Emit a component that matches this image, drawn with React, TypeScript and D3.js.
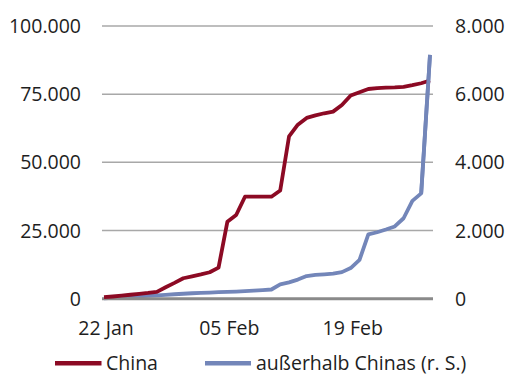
import React from "react";
import * as d3 from "d3";

const startDate = new Date(2020, 0, 22);
const endDate = new Date(2020, 1, 28);
const dates: Date[] = d3.timeDay.range(startDate, d3.timeDay.offset(endDate, 1));

const chinaValues = [
  570, 800, 1100, 1450, 1800, 2100, 2500, 4200, 5800, 7500, 8200, 8900, 9700,
  11400, 28200, 30700, 37400, 37400, 37400, 37400, 39700, 59500, 63800, 66300,
  67200, 68000, 68600, 71000, 74500, 75700, 76900, 77200, 77400, 77500, 77700,
  78300, 79000, 80000,
];

const outsideValues = [
  10, 25, 40, 55, 70, 85, 100, 115, 130, 145, 160, 170, 180, 190, 200, 210, 220,
  235, 250, 270, 420, 480, 560, 665, 700, 715, 735, 780, 900, 1140, 1890, 1950,
  2030, 2120, 2360, 2870, 3090, 7150,
];

const leftTicks = [0, 25000, 50000, 75000, 100000];
const rightTicks = [0, 2000, 4000, 6000, 8000];
const xTickDates = [new Date(2020, 0, 22), new Date(2020, 1, 5), new Date(2020, 1, 19)];

const seriesNames = ["China", "außerhalb Chinas (r. S.)"];
const colors = ["#8c0a24", "#7386b9"];

const de = d3.formatLocale({
  decimal: ",",
  thousands: ".",
  grouping: [3],
  currency: ["", " €"],
});
const fmt = de.format(",d");
const fmtDate = d3.timeFormat("%d %b");

const FONT = "'Open Sans', sans-serif";
const TEXT = "#1e1e1e";

export default function App() {
  const W = 508;
  const H = 374;
  const x = d3.scaleTime().domain([startDate, endDate]).range([104, 430]);
  const yL = d3.scaleLinear().domain([0, 100000]).range([298.7, 26]);
  const yR = d3.scaleLinear().domain([0, 8000]).range([298.7, 26]);

  const lineL = d3
    .line<number>()
    .x((_, i) => x(dates[i]))
    .y((d) => yL(d));
  const lineR = d3
    .line<number>()
    .x((_, i) => x(dates[i]))
    .y((d) => yR(d));

  const gx0 = 102;
  const gx1 = 433;

  return (
    <svg
      width={W}
      height={H}
      style={{ position: "absolute", left: 0, top: 0, background: "#fff" }}
      fontFamily={FONT}
    >
      {leftTicks.map((t) =>
        t === 0 ? null : (
          <line
            key={"g" + t}
            x1={gx0}
            x2={gx1}
            y1={yL(t)}
            y2={yL(t)}
            stroke="#a8a8a8"
            strokeWidth={1.5}
          />
        )
      )}
      {leftTicks.map((t) => (
        <text
          key={"l" + t}
          x={81}
          y={yL(t)}
          dy="0.36em"
          textAnchor="end"
          fontSize={19.5}
          fill={TEXT}
        >
          {fmt(t)}
        </text>
      ))}
      {rightTicks.map((t) => (
        <text
          key={"r" + t}
          x={455}
          y={yR(t)}
          dy="0.36em"
          textAnchor="start"
          fontSize={19.5}
          fill={TEXT}
        >
          {fmt(t)}
        </text>
      ))}
      {xTickDates.map((d) => (
        <text
          key={"x" + d.getTime()}
          x={x(d) + 2}
          y={335}
          textAnchor="middle"
          fontSize={19.5}
          fill={TEXT}
        >
          {fmtDate(d)}
        </text>
      ))}
      <path
        d={lineR(outsideValues) || ""}
        fill="none"
        stroke={colors[1]}
        strokeWidth={3.8}
        strokeLinejoin="round"
      />
      <line
        x1={gx0}
        x2={gx1}
        y1={yL(0)}
        y2={yL(0)}
        stroke="#8a8a8a"
        strokeWidth={3}
      />
      <path
        d={lineL(chinaValues) || ""}
        fill="none"
        stroke={colors[0]}
        strokeWidth={3.8}
        strokeLinejoin="round"
      />
      <path
        d={lineR(outsideValues.slice(-2)) ? (d3
          .line<number>()
          .x((_, i) => x(dates[dates.length - 2 + i]))
          .y((d) => yR(d))(outsideValues.slice(-2)) || "") : ""}
        fill="none"
        stroke={colors[1]}
        strokeWidth={3.8}
        strokeLinejoin="round"
      />
      {/* legend */}
      <line x1={55} x2={101.5} y1={363.3} y2={363.3} stroke={colors[0]} strokeWidth={4.5} />
      <text x={106} y={369.5} fontSize={19.5} fill={TEXT}>
        {seriesNames[0]}
      </text>
      <line x1={205} x2={251} y1={363.3} y2={363.3} stroke={colors[1]} strokeWidth={4.5} />
      <text x={256} y={369.5} fontSize={19.5} fill={TEXT}>
        {seriesNames[1]}
      </text>
    </svg>
  );
}
